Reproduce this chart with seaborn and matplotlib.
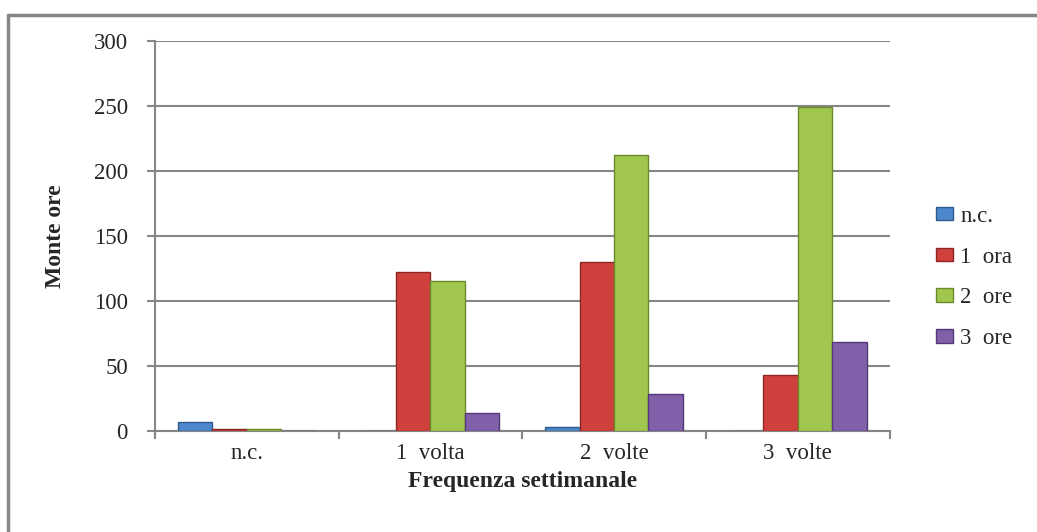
import matplotlib
matplotlib.use("Agg")
import matplotlib.pyplot as plt
from matplotlib.lines import Line2D
from matplotlib.ticker import FixedLocator
import seaborn as sns
import pandas as pd

# data
frequenze = ["n.c.", "1  volta", "2  volte", "3  volte"]
durate = ["n.c.", "1  ora", "2  ore", "3  ore"]
ore_nc = [7, 0, 3, 0]
ore_1 = [1, 122, 130, 43]
ore_2 = [1, 115, 212, 249]
ore_3 = [0, 14, 28, 68]
colori = ["#4C88CB", "#D0413E", "#A0C64D", "#8061A9"]
bordi = ["#2E5A8C", "#8E2624", "#6A8A2C", "#54387A"]

rows = []
for dur, vals in zip(durate, [ore_nc, ore_1, ore_2, ore_3]):
    for f, v in zip(frequenze, vals):
        rows.append({"freq": f, "durata": dur, "ore": v})
df = pd.DataFrame(rows)

sns.set_theme(style="white")
plt.rcParams["font.family"] = ["Liberation Serif", "DejaVu Serif"]

fig = plt.figure(figsize=(10.37, 5.32), dpi=100)
ax = fig.add_axes([155 / 1037, 1 - 430.7 / 532, 734.5 / 1037, 390 / 532])

sns.barplot(data=df, x="freq", y="ore", hue="durata", order=frequenze,
            hue_order=durate, palette=colori, width=0.75, ax=ax,
            linewidth=1.0, saturation=1)

# darker outline per series
for cont, bc in zip(ax.containers, bordi):
    for p in cont:
        p.set_edgecolor(bc)
        p.set_zorder(3)

grigio = "#868686"
ax.set_ylim(0, 300)
ax.set_xlim(-0.5, 3.5)
ax.set_yticks(range(0, 301, 50))
ax.yaxis.grid(True, color=grigio, linewidth=1.5, zorder=0)
ax.xaxis.grid(False)
ax.set_axisbelow(True)
for s in ["top", "right"]:
    ax.spines[s].set_visible(False)
for s in ["left", "bottom"]:
    ax.spines[s].set_color(grigio)
    ax.spines[s].set_linewidth(1.5)

ax.tick_params(axis="y", length=6, width=1.5, color=grigio, direction="out",
               labelsize=16.5, pad=13.5, left=True)
ax.tick_params(axis="x", which="major", length=0, labelsize=16.5, pad=9)
ax.xaxis.set_minor_locator(FixedLocator([-0.5, 0.5, 1.5, 2.5, 3.5]))
ax.tick_params(axis="x", which="minor", length=6, width=1.5, color=grigio,
               direction="out", bottom=True)

ax.set_xlabel("Frequenza settimanale", fontsize=17, fontweight="bold", labelpad=5)
ax.set_ylabel("Monte ore", fontsize=17, fontweight="bold", labelpad=20)

handles = [plt.Rectangle((0, 0), 1, 1, facecolor=c, edgecolor=b, linewidth=1)
           for c, b in zip(colori, bordi)]
ax.legend(handles, durate, loc="center left", bbox_to_anchor=(927 / 1037, 1 - 277.5 / 532),
          bbox_transform=fig.transFigure, frameon=False, fontsize=16.5,
          handlelength=0.75, handleheight=0.55, handletextpad=0.3, labelspacing=0.87,
          borderaxespad=0)

# outer border of the chart area
fig.add_artist(Line2D([8 / 1037, 8 / 1037], [0, 1 - 15 / 532], color=grigio,
                      linewidth=2.5, transform=fig.transFigure))
fig.add_artist(Line2D([8 / 1037, 1], [1 - 15 / 532, 1 - 15 / 532], color=grigio,
                      linewidth=2.5, transform=fig.transFigure))

fig.savefig("out.png", dpi=100)
